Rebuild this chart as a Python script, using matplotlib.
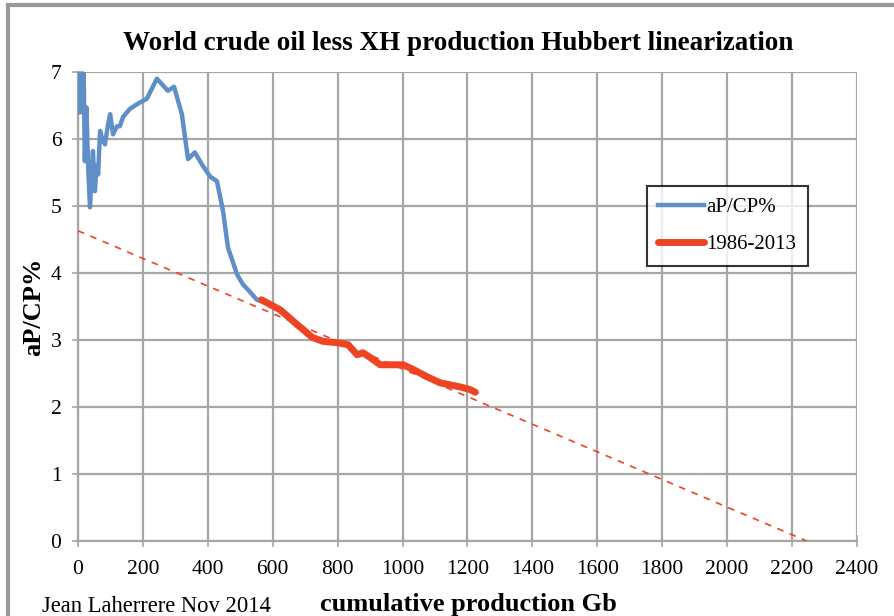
import matplotlib
matplotlib.use("Agg")
import matplotlib.pyplot as plt
from matplotlib.lines import Line2D
import numpy as np

# Blue series: aP/CP% vs cumulative production (Gb)
blue_x = [0, 4, 8, 11, 14, 17, 21, 26, 31, 37, 42, 46, 52, 57, 62, 68, 75, 83, 92, 99, 108,
          120, 129, 139, 160, 182, 212, 243, 277, 296, 320, 339, 360, 382, 407, 428, 447,
          462, 490, 508, 524, 551, 565]
blue_y = [6.4, 7.2, 6.4, 7.3, 6.6, 7.2, 5.67, 6.47, 5.6, 4.98, 5.5, 5.82, 5.22, 5.6, 5.47, 6.12,
          6.0, 5.92, 6.2, 6.37, 6.07, 6.19, 6.19, 6.33, 6.45, 6.52, 6.6, 6.9, 6.72, 6.78,
          6.37, 5.70, 5.80, 5.62, 5.44, 5.37, 4.92, 4.38, 3.98, 3.83, 3.75, 3.60, 3.58]

# Red series: 1986-2013
red_x = [565, 592, 623, 647, 675, 700, 721, 755, 798, 832, 860, 878, 900, 931, 971, 1002,
         1033, 1076, 1116, 1147, 1177, 1208, 1224]
red_y = [3.60, 3.53, 3.45, 3.35, 3.23, 3.13, 3.04, 2.98, 2.96, 2.93, 2.78, 2.81, 2.74, 2.63,
         2.63, 2.63, 2.56, 2.45, 2.36, 2.33, 2.30, 2.26, 2.22]

# Linear trend
trend_x = [0, 2245]
trend_y = [4.63, 0.0]

x_ticks = list(range(0, 2401, 200))
y_ticks = list(range(0, 8))

plt.rcParams['font.family'] = ['Liberation Serif', 'DejaVu Serif']

fig = plt.figure(figsize=(8.94, 6.16), dpi=100)
W, H = 894, 616
ax = fig.add_axes([78 / W, (H - 541) / H, (857 - 78) / W, (541 - 72) / H])

grid_c = '#a6a6a6'
blue_c = '#5f8ec8'
red_c = '#ee4423'

ax.plot(trend_x, trend_y, color=red_c, lw=1.2, ls=(0, (4, 4)), zorder=3)
ax.plot(blue_x, blue_y, color=blue_c, lw=3.2, solid_joinstyle='round', zorder=4, clip_on=True)
ax.plot(red_x, red_y, color=red_c, lw=5, solid_capstyle='round', solid_joinstyle='round', zorder=5)

ax.set_xlim(0, 2400)
ax.set_ylim(0, 7)
ax.set_xticks(x_ticks)
ax.set_yticks(y_ticks)
ax.set_xticklabels([str(t) for t in x_ticks], fontsize=15.5)
ax.set_yticklabels([str(t) for t in y_ticks], fontsize=15.5)
ax.grid(True, color=grid_c, lw=1.6, zorder=0)
ax.set_axisbelow(True)
for s in ['top', 'right']:
    ax.spines[s].set_visible(False)
for s in ['left', 'bottom']:
    ax.spines[s].set_color(grid_c)
    ax.spines[s].set_linewidth(1.6)
ax.tick_params(axis='x', direction='inout', length=8, width=1.2, color=grid_c, pad=10, labelcolor='black')
ax.tick_params(axis='y', direction='inout', length=8, width=1.2, color=grid_c, pad=8, labelcolor='black')

ax.set_ylabel('aP/CP%', fontsize=19, fontweight='bold', labelpad=4)
fig.text(468 / W, 1 - 604 / H, 'cumulative production Gb', fontsize=19, fontweight='bold',
         ha='center', va='center')
fig.text(42 / W, 1 - 606 / H, 'Jean Laherrere Nov 2014', fontsize=16.3, ha='left', va='center')
fig.text(458 / W, 1 - 44 / H, 'World crude oil less XH production Hubbert linearization',
         fontsize=19.5, fontweight='bold', ha='center', va='center')

handles = [Line2D([], [], color=blue_c, lw=3.2), Line2D([], [], color=red_c, lw=5, solid_capstyle='round')]
leg = ax.legend(handles, ['aP/CP%', '1986-2013'], loc='upper left',
                bbox_to_anchor=((647 - 78) / (857 - 78), (541 - 186) / (541 - 72)),
                fontsize=15, frameon=True, fancybox=False, edgecolor='black',
                handlelength=2.2, handletextpad=0.1, borderpad=0.55, labelspacing=0.85,
                borderaxespad=0)
leg.get_frame().set_linewidth(1.5)

# page border lines
fig.add_artist(Line2D([8 / W, 8 / W], [0, 1 - 5 / H], color='#999999', lw=3, transform=fig.transFigure))
fig.add_artist(Line2D([8 / W, 1], [1 - 5 / H, 1 - 5 / H], color='#999999', lw=3, transform=fig.transFigure))

fig.savefig('out.png', dpi=100)
